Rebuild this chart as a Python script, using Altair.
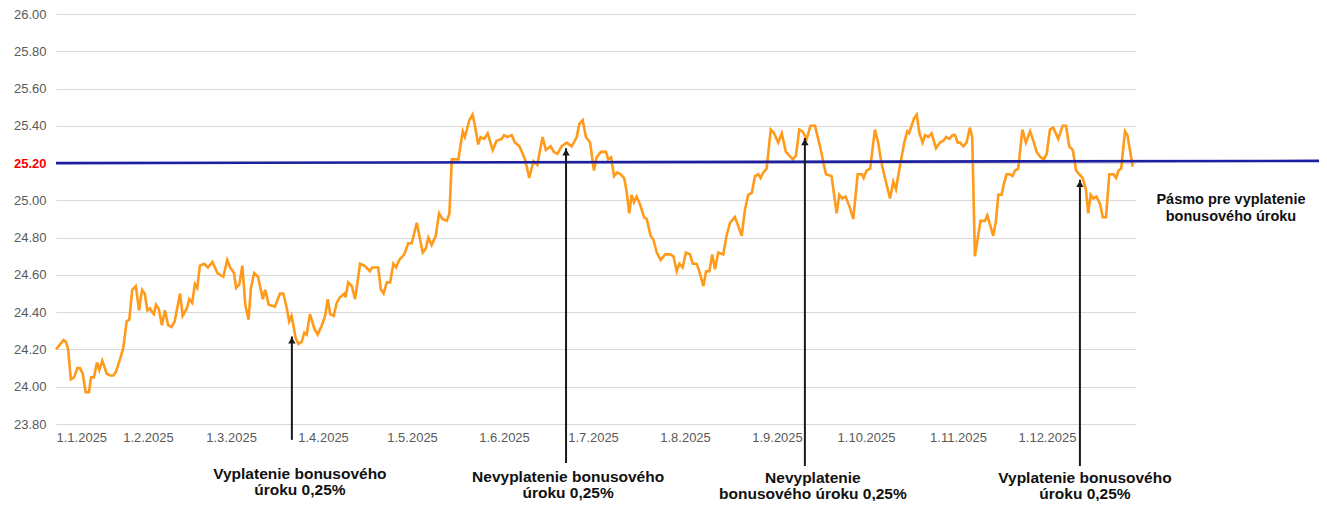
import altair as alt
import pandas as pd

# ---- data ----
day_offset = [
    0.0, 2.5, 3.4, 4.1, 5.0, 6.1, 7.2, 8.1, 9.0, 10.0,
    11.1, 11.8, 12.8, 13.8, 14.6, 15.6, 17.1, 18.2, 19.3, 20.2,
    21.6, 22.7, 23.8, 24.7, 25.7, 26.9, 28.0, 29.0, 29.9, 30.8,
    31.7, 32.4, 33.0, 33.7, 34.6, 35.7, 36.7, 37.8, 38.9, 40.0,
    41.8, 42.7, 44.1, 44.9, 45.9, 46.8, 47.6, 48.5, 49.9, 51.2,
    52.7, 54.4, 56.4, 57.7, 58.7, 60.0, 60.7, 61.8, 62.8, 63.8,
    64.9, 65.7, 66.8, 68.1, 69.7, 70.5, 71.7, 73.8, 75.5, 76.6,
    77.8, 78.6, 79.4, 80.8, 81.7, 82.8, 83.7, 84.5, 85.6, 87.1,
    88.2, 89.6, 90.7, 91.6, 92.4, 93.6, 94.6, 95.7, 97.2, 97.6,
    98.5, 99.7, 100.8, 102.5, 103.9, 105.8, 106.6, 108.6, 109.5, 110.4,
    111.5, 112.6, 113.7, 114.6, 115.7, 117.4, 118.7, 119.9, 121.6, 122.6,
    123.6, 124.6, 125.5, 126.6, 128.0, 129.1, 130.2, 131.7, 132.6, 133.4,
    135.6, 137.1, 137.8, 139.3, 140.4, 141.2, 142.3, 143.1, 144.3, 145.5,
    147.2, 148.5, 150.2, 151.0, 152.1, 153.6, 154.7, 156.2, 158.1, 159.5,
    160.9, 162.2, 164.0, 165.1, 166.7, 167.8, 169.0, 170.4, 172.1, 173.8,
    175.5, 176.4, 177.5, 178.6, 180.0, 181.3, 182.2, 183.6, 185.4, 186.1,
    187.1, 188.1, 189.2, 190.3, 191.5, 192.3, 193.2, 194.0, 194.8, 195.7,
    196.8, 198.2, 199.1, 200.4, 201.3, 202.5, 203.8, 205.3, 207.0, 208.1,
    209.2, 210.1, 211.2, 212.3, 213.7, 214.6, 215.9, 216.8, 218.2, 219.1,
    220.2, 221.2, 222.1, 223.2, 224.9, 226.0, 227.2, 228.8, 230.0, 231.1,
    232.2, 233.3, 234.5, 235.6, 236.7, 237.5, 238.4, 239.5, 240.9, 242.0,
    243.4, 244.6, 246.0, 248.3, 249.4, 250.5, 251.6, 253.0, 254.3, 255.8,
    257.5, 259.5, 261.4, 263.1, 264.0, 265.0, 266.1, 267.6, 268.7, 270.2,
    271.6, 272.2, 273.2, 274.4, 276.0, 277.1, 278.1, 279.4, 281.1, 282.2,
    283.1, 284.5, 285.9, 286.9, 287.5, 289.2, 290.1, 291.0, 292.1, 292.9,
    294.0, 295.1, 296.6, 297.9, 299.1, 300.0, 301.1, 302.2, 303.0, 303.9,
    304.7, 305.8, 306.9, 308.0, 308.8, 309.7, 310.8, 311.6, 313.1, 313.9,
    314.8, 315.9, 316.8, 317.6, 318.7, 319.5, 320.4, 321.5, 322.4, 323.2,
    324.3, 325.7, 326.9, 328.3, 329.6, 330.5, 331.9, 333.0, 333.9, 335.0,
    336.1, 337.8, 339.3, 340.4, 341.5, 342.7, 343.8, 344.9, 346.0, 347.1,
    347.9, 348.7, 349.6, 350.7, 351.9, 352.8, 353.9, 355.0, 356.4, 357.3,
    358.1, 359.0, 360.3, 361.1, 362.9,
]

rate = [
    24.20, 24.25, 24.24, 24.20, 24.04, 24.05, 24.10, 24.10, 24.07, 23.97,
    23.97, 24.05, 24.05, 24.13, 24.09, 24.14, 24.07, 24.06, 24.06, 24.08,
    24.15, 24.21, 24.35, 24.36, 24.52, 24.54, 24.41, 24.52, 24.50, 24.41,
    24.42, 24.40, 24.39, 24.44, 24.42, 24.33, 24.41, 24.33, 24.32, 24.35,
    24.50, 24.38, 24.42, 24.47, 24.45, 24.55, 24.53, 24.65, 24.66, 24.64,
    24.67, 24.61, 24.59, 24.68, 24.64, 24.61, 24.53, 24.55, 24.65, 24.44,
    24.36, 24.53, 24.61, 24.59, 24.47, 24.52, 24.44, 24.43, 24.50, 24.50,
    24.42, 24.35, 24.38, 24.26, 24.23, 24.24, 24.29, 24.28, 24.39, 24.31,
    24.28, 24.33, 24.38, 24.47, 24.39, 24.38, 24.45, 24.48, 24.50, 24.48,
    24.56, 24.54, 24.47, 24.66, 24.65, 24.62, 24.64, 24.64, 24.52, 24.50,
    24.56, 24.56, 24.66, 24.64, 24.68, 24.71, 24.77, 24.77, 24.88, 24.80,
    24.72, 24.74, 24.80, 24.76, 24.81, 24.93, 24.90, 24.89, 24.93, 25.22,
    25.22, 25.37, 25.34, 25.43, 25.46, 25.40, 25.30, 25.34, 25.33, 25.36,
    25.27, 25.32, 25.33, 25.35, 25.34, 25.35, 25.31, 25.29, 25.22, 25.12,
    25.21, 25.19, 25.34, 25.27, 25.29, 25.26, 25.25, 25.29, 25.31, 25.29,
    25.34, 25.41, 25.43, 25.34, 25.31, 25.16, 25.23, 25.26, 25.26, 25.22,
    25.23, 25.13, 25.15, 25.14, 25.12, 25.05, 24.93, 25.03, 24.99, 25.02,
    24.98, 24.91, 24.90, 24.81, 24.79, 24.72, 24.68, 24.71, 24.71, 24.70,
    24.62, 24.66, 24.64, 24.72, 24.71, 24.66, 24.66, 24.62, 24.54, 24.62,
    24.62, 24.71, 24.63, 24.72, 24.71, 24.81, 24.88, 24.91, 24.86, 24.81,
    24.95, 25.03, 25.04, 25.13, 25.14, 25.12, 25.15, 25.17, 25.38, 25.36,
    25.31, 25.36, 25.26, 25.22, 25.24, 25.38, 25.37, 25.33, 25.40, 25.40,
    25.29, 25.14, 25.13, 24.93, 25.03, 25.01, 25.02, 24.96, 24.90, 25.14,
    25.14, 25.12, 25.16, 25.17, 25.38, 25.31, 25.21, 25.12, 25.01, 25.10,
    25.06, 25.19, 25.31, 25.37, 25.36, 25.44, 25.46, 25.36, 25.31, 25.35,
    25.34, 25.36, 25.28, 25.31, 25.32, 25.34, 25.33, 25.35, 25.35, 25.31,
    25.31, 25.29, 25.31, 25.39, 25.34, 24.70, 24.81, 24.89, 24.89, 24.92,
    24.87, 24.81, 24.89, 25.03, 25.03, 25.09, 25.14, 25.14, 25.13, 25.16,
    25.17, 25.38, 25.31, 25.37, 25.31, 25.26, 25.23, 25.22, 25.25, 25.38,
    25.39, 25.33, 25.40, 25.40, 25.29, 25.27, 25.16, 25.14, 25.12, 25.06,
    24.93, 25.03, 25.01, 25.02, 24.98, 24.91, 24.91, 25.14, 25.14, 25.12,
    25.16, 25.17, 25.37, 25.35, 25.18,
]

y_ticks = [23.8, 24.0, 24.2, 24.4, 24.6, 24.8, 25.0, 25.2, 25.4, 25.6, 25.8, 26.0]
tick_months = list(range(1, 13))

band_level = 25.20
band_level_right = 25.212

arrow_day = [79.5, 171.9, 252.4, 345.1]
arrow_tip = [24.27, 25.28, 25.335, 25.11]
arrow_base = [23.715, 23.591, 23.575, 23.575]

note_day = [82.2, 172.6, 255.1, 346.8]
note_y = [23.532, 23.516, 23.511, 23.511]
note_text = [
    "Vyplatenie bonusového\núroku 0,25%",
    "Nevyplatenie bonusového\núroku 0,25%",
    "Nevyplatenie\nbonusového úroku 0,25%",
    "Vyplatenie bonusového\núroku 0,25%",
]

band_note_day = [396.0]
band_note_y = [25.002]
band_note_text = ["Pásmo pre vyplatenie\nbonusového úroku"]

# ---- tables ----
start = pd.Timestamp("2025-01-01")


def to_dates(days):
    return start + pd.to_timedelta(days, unit="D")


series = pd.DataFrame({"date": to_dates(day_offset), "rate": rate})
band = pd.DataFrame({"date": [start], "level": [band_level], "level2": [band_level_right]})
arrows = pd.DataFrame({"date": to_dates(arrow_day), "tip": arrow_tip, "base": arrow_base})
notes = pd.DataFrame({"date": to_dates(note_day), "y": note_y, "text": note_text})
band_note = pd.DataFrame({"date": to_dates(band_note_day), "y": band_note_y, "text": band_note_text})

FONT = "Liberation Sans"

x_scale = alt.Scale(domain=[alt.DateTime(year=2025, month=1, date=1),
                            alt.DateTime(year=2025, month=12, date=31)])
y_scale = alt.Scale(domain=[23.8, 26.0], nice=False, zero=False)

x_axis = alt.Axis(
    values=[alt.DateTime(year=2025, month=m, date=1) for m in tick_months],
    tickCount=len(tick_months) + 4,
    format="%-d.%-m.%Y", title=None, grid=False, domain=False, ticks=False,
    labelPadding=7, labelFontSize=13, labelFont=FONT, labelColor="#595959",
    labelOverlap=False,
)
y_axis = alt.Axis(
    values=y_ticks, tickCount=len(y_ticks) + 4, format=".2f", title=None,
    domain=False, ticks=False,
    labelPadding=10, labelFontSize=13, labelFont=FONT, labelOverlap=False,
    labelColor=alt.condition("datum.value == 25.2", alt.value("#ff0000"), alt.value("#595959")),
    labelFontWeight=alt.condition("datum.value == 25.2", alt.value("bold"), alt.value("normal")),
    gridColor="#d9d9d9", gridWidth=1.2,
)

line = alt.Chart(series).mark_line(color="#ff9a1a", strokeWidth=2.6).encode(
    x=alt.X("date:T", scale=x_scale, axis=x_axis),
    y=alt.Y("rate:Q", scale=y_scale, axis=y_axis),
)

band_rule = alt.Chart(band).mark_rule(color="#1e1ea0", strokeWidth=2.6).encode(
    x="date:T",
    x2=alt.value(1263),
    y="level:Q",
    y2="level2:Q",
)

arrow_shaft = alt.Chart(arrows).mark_rule(color="#1a1a1a", strokeWidth=2).encode(
    x="date:T", y="tip:Q", y2="base:Q",
)
arrow_head = alt.Chart(arrows).mark_point(
    shape="triangle-up", filled=True, size=55, color="#1a1a1a", opacity=1, yOffset=4
).encode(x="date:T", y="tip:Q")

note_marks = alt.Chart(notes).mark_text(
    font=FONT, fontSize=15.5, fontWeight="bold", color="#111111",
    align="center", baseline="middle", lineBreak="\n", lineHeight=16,
).encode(x="date:T", y="y:Q", text="text:N")

band_note_mark = alt.Chart(band_note).mark_text(
    font=FONT, fontSize=14.5, fontWeight="bold", color="#111111",
    align="center", baseline="middle", lineBreak="\n", lineHeight=17,
).encode(x="date:T", y="y:Q", text="text:N")

chart = alt.layer(line, band_rule, arrow_shaft, arrow_head, note_marks, band_note_mark).properties(
    width=1080, height=410,
    padding={"left": 48, "top": 6, "right": 183, "bottom": 77},
    autosize=alt.AutoSizeParams(type="none"),
).configure_view(stroke="transparent")

chart.save("out.html", embed_options={"renderer": "svg", "actions": False})
